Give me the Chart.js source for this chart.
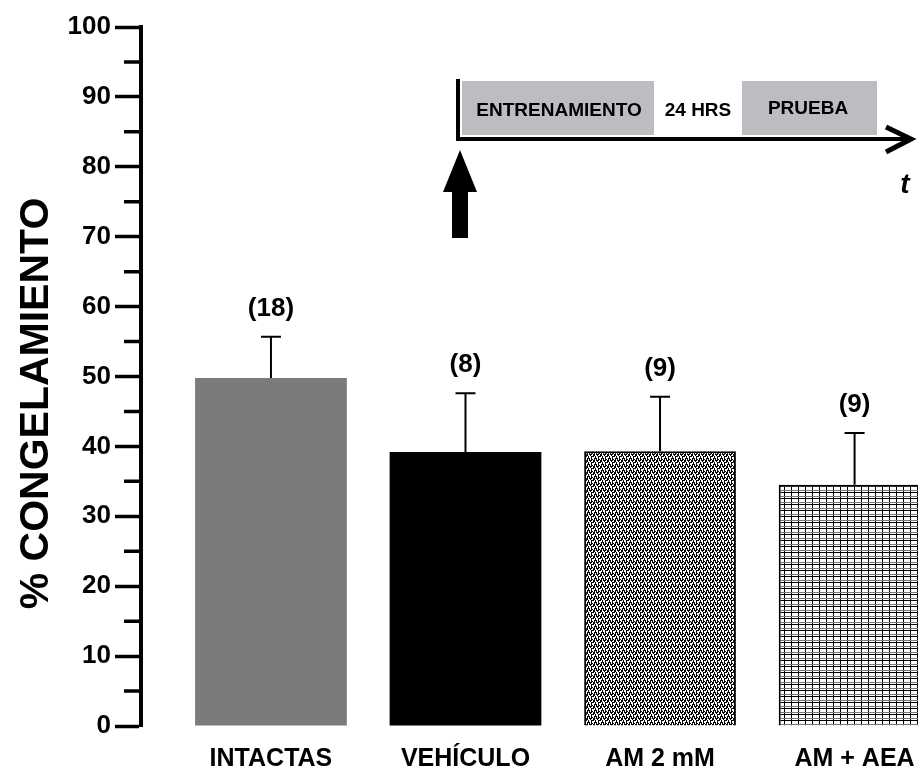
<!DOCTYPE html>
<html>
<head>
<meta charset="utf-8">
<script src="https://cdn.jsdelivr.net/npm/chart.js@4.4.1/dist/chart.umd.min.js"></script>
<style>
  html, body { margin: 0; padding: 0; background: #fff; overflow: hidden; }
  #wrap { width: 918px; height: 770px; position: relative; }
</style>
</head>
<body>
<div id="wrap"><canvas id="freezeChart"></canvas></div>
<script>
// % freezing per group
const groups = ['INTACTAS', 'VEHÍCULO', 'AM 2 mM', 'AM + AEA'];
const meanFreezing = [49.8, 39.2, 39.3, 34.5];
const semFreezing = [5.9, 8.4, 7.8, 7.4];
const animalsN = [18, 8, 9, 9];
const yTicks = [0, 10, 20, 30, 40, 50, 60, 70, 80, 90, 100];
const yMinorTicks = [5, 15, 25, 35, 45, 55, 65, 75, 85, 95];
const yTitle = '% CONGELAMIENTO';

const FONT = '"Liberation Sans", Arial, sans-serif';

function makePattern(rows, colors) {
    const c = document.createElement('canvas');
    c.width = rows[0].length;
    c.height = rows.length;
    const g = c.getContext('2d');
    g.fillStyle = '#fff';
    g.fillRect(0, 0, c.width, c.height);
    rows.forEach((r, y) => {
        [...r].forEach((ch, x) => {
            if (colors[ch]) {
                g.fillStyle = colors[ch];
                g.fillRect(x, y, 1, 1);
            }
        });
    });
    return g.createPattern(c, 'repeat');
}

// dense zigzag fill (AM 2 mM)
const zigzag = makePattern([
    '1001110',
    '1001000',
    '1101001',
    '0101101',
    '0111011',
    '0010011'
], { '1': '#000' });

// brick grid fill (AM + AEA)
const bricks = makePattern([
    '1111111',
    '1000000',
    '1000000',
    '1000000',
    'ggggggg',
    '1000000'
], { '1': '#000', 'g': '#777' });

const errorBars = {
    id: 'errorBars',
    afterDatasetsDraw(chart) {
        const { ctx, scales: { x, y } } = chart;
        ctx.save();
        ctx.strokeStyle = '#000';
        ctx.fillStyle = '#000';
        ctx.lineWidth = 2;
        ctx.font = 'bold 26px ' + FONT;
        ctx.textAlign = 'center';
        ctx.textBaseline = 'middle';
        meanFreezing.forEach((m, i) => {
            const px = x.getPixelForValue(i);
            const base = y.getPixelForValue(m);
            const top = y.getPixelForValue(m + semFreezing[i]);
            ctx.beginPath();
            ctx.moveTo(px, base);
            ctx.lineTo(px, top);
            ctx.moveTo(px - 10, top);
            ctx.lineTo(px + 10, top);
            ctx.stroke();
            ctx.fillText('(' + animalsN[i] + ')', px, top - 28);
        });
        ctx.restore();
    }
};

const minorTicks = {
    id: 'minorTicks',
    afterDraw(chart) {
        const { ctx, scales: { y } } = chart;
        ctx.save();
        ctx.strokeStyle = '#000';
        ctx.lineWidth = 3.5;
        ctx.beginPath();
        yMinorTicks.forEach(v => {
            const py = y.getPixelForValue(v);
            ctx.moveTo(y.right - 17, py);
            ctx.lineTo(y.right, py);
        });
        ctx.stroke();

        // axis title, sits a little below the axis middle in the original
        ctx.translate(37, (y.top + y.bottom) / 2 + 27);
        ctx.rotate(-Math.PI / 2);
        ctx.fillStyle = '#000';
        ctx.font = 'bold 41px ' + FONT;
        ctx.textAlign = 'center';
        ctx.textBaseline = 'middle';
        ctx.fillText(yTitle, 0, 0);
        ctx.restore();
    }
};

// protocol inset: training -> 24 h -> test
const timeline = {
    id: 'timeline',
    afterDraw(chart) {
        const ctx = chart.ctx;
        ctx.save();
        ctx.fillStyle = '#bcbdc0';
        ctx.fillRect(462, 81, 192, 54);
        ctx.fillRect(742, 81, 135, 54);

        ctx.strokeStyle = '#000';
        ctx.lineWidth = 4;
        ctx.beginPath();
        ctx.moveTo(458, 79);
        ctx.lineTo(458, 139);
        ctx.lineTo(910, 139);
        ctx.stroke();
        ctx.lineWidth = 5;
        ctx.beginPath();
        ctx.moveTo(886, 127);
        ctx.lineTo(911, 139);
        ctx.lineTo(886, 152);
        ctx.stroke();

        ctx.fillStyle = '#000';
        ctx.beginPath();
        ctx.moveTo(460, 150);
        ctx.lineTo(477, 192);
        ctx.lineTo(468, 192);
        ctx.lineTo(468, 238);
        ctx.lineTo(452, 238);
        ctx.lineTo(452, 192);
        ctx.lineTo(443, 192);
        ctx.closePath();
        ctx.fill();

        ctx.font = 'bold 19px ' + FONT;
        ctx.textAlign = 'center';
        ctx.textBaseline = 'middle';
        ctx.fillText('ENTRENAMIENTO', 559, 111);
        ctx.fillText('24 HRS', 698, 111);
        ctx.fillText('PRUEBA', 808, 109);
        ctx.font = 'italic bold 28px ' + FONT;
        ctx.fillText('t', 905, 185);
        ctx.restore();
    }
};

new Chart(document.getElementById('freezeChart'), {
    type: 'bar',
    data: {
        datasets: [{
            label: '% congelamiento',
            data: meanFreezing.map((v, i) => ({ x: i, y: v })),
            backgroundColor: ['#7b7b7b', '#000000', zigzag, bricks],
            borderColor: '#000',
            borderWidth: [0, 0, 2, 2],
            barPercentage: 0.78,
            categoryPercentage: 1
        }]
    },
    options: {
        responsive: true,
        maintainAspectRatio: false,
        animation: false,
        layout: { padding: { top: 27, right: 0, bottom: 0, left: 0 } },
        plugins: {
            legend: { display: false },
            tooltip: { enabled: false }
        },
        scales: {
            x: {
                type: 'linear',
                offset: false,
                min: -0.668,
                max: 3.326,
                afterBuildTicks: s => { s.ticks = groups.map((g, i) => ({ value: i })); },
                afterFit: s => {
                    s.height = 44;
                    // last bar runs off the right edge in the original
                    s.paddingLeft = 0;
                    s.paddingRight = 0;
                },
                grid: { display: false, drawTicks: false, offset: false },
                border: { display: false },
                ticks: {
                    autoSkip: false,
                    maxRotation: 0,
                    padding: 18,
                    color: '#000',
                    font: { family: FONT, size: 25, weight: 'bold' },
                    callback: v => groups[v] ?? ''
                }
            },
            y: {
                min: 0,
                max: 100,
                afterBuildTicks: s => { s.ticks = yTicks.map(v => ({ value: v })); },
                afterFit: s => { s.width = 141; },
                grid: {
                    drawOnChartArea: false,
                    drawTicks: true,
                    tickLength: 26,
                    tickWidth: 3.5,
                    color: '#000'
                },
                border: { display: true, color: '#000', width: 4 },
                ticks: {
                    padding: 4,
                    color: '#000',
                    font: { family: FONT, size: 26, weight: 'bold' }
                }
            }
        }
    },
    plugins: [errorBars, minorTicks, timeline]
});
</script>
</body>
</html>
